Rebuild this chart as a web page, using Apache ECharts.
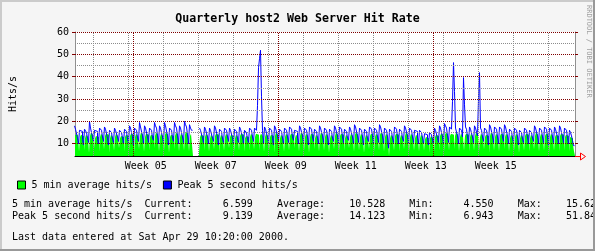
<!DOCTYPE html>
<html>
<head>
<meta charset="utf-8">
<script src="https://cdn.jsdelivr.net/npm/echarts@6/dist/echarts.min.js"></script>
<style>
html,body{margin:0;padding:0;background:#F5F5F5;}
#chart{width:595px;height:251px;}
</style>
</head>
<body>
<div id="chart"></div>
<script>
// ---- time frame: day-of-year 2000, one sample per 0.2 day (4.8 h) ----
const tStart = 19.34;           // first sample (Jan 20 2000)
const sampleStep = 0.2;         // days per consolidated sample
const tEnd = tStart + 100;      // last sample end (Apr 29 2000)

// ---- 5 min average hits/s, one row per day (night dip first) ----
const avgHits = [
 [14,14.5,14,13.5],
 [6.5,13,14,14,13.5],[7,12.5,14,14.5,13],[6,13.5,15,14.5,14],[8,12.5,13.5,14,13],[6.5,13,14.5,14.5,13.5],
 [7.5,13.5,14.5,15,14],[6,12.5,14,14,13],[7,13,14.5,14,13.5],[8,12.5,13.5,13.5,13],[6.5,13,14,14,13.5],
 [7,13.5,14.5,15,14],[6,13,14.5,14.5,13.5],[7.5,13.5,15,15,14],[6.5,13,14.5,14.5,14],[7,13,14,14.5,13.5],
 [8,13.5,15,15,14],[6.5,13,14.5,14.5,13.5],[7,14,15,15.6,14],[6,13,14,14.5,13.5],[7.5,13.5,15,15,14],
 [6.5,13,14.5,14.5,13.5],[7,14,15.5,15,14],[6.5,13.5,14.5,14,null],[null,null,null,null,null],[6,13,14,14,13.5],
 [7,13,14.5,14.5,13.5],[6.5,12.5,14,14,13],[7.5,13.5,14.5,15,14],[6,12.5,14,14,13],[7,13,14.5,14.5,13.5],
 [8,13,14,14.5,13.5],[6.5,12.5,14,14,13],[7,13.5,14.5,15,14],[6.5,12.5,13.5,14,13],[7,13,14.5,14.5,13.5],
 [7.5,13,14.5,14.5,14],[7,13.5,14.5,14.5,13.5],[6.5,13,14.5,14.5,13.5],[7,13,14,14.5,13.5],[6,13.5,15,15,14],
 [7.5,12.5,14,14,13],[6.5,13,14.5,14.5,13.5],[7,13.5,14.5,15,14],[8,12.5,14,14,13],[6.5,13.5,15,15,14],
 [7,13,14.5,14.5,13.5],[6,13,14.5,15,14],[7.5,12.5,14,14,13],[6.5,13.5,15,15,14],[7,13,14.5,14.5,13.5],
 [6,12.5,14,14,13],[7.5,13.5,15,15,14],[6.5,13.5,14.5,15,14],[7,12.5,14,14,13],[8,13,14.5,14.5,13.5],
 [6.5,14,15,15.5,14],[7,13,14.5,14.5,13.5],[6,12.5,14,14,13],[7.5,13.5,14.5,15,14],[6.5,13,14.5,14.5,13.5],
 [7,14,15,15.5,14],[6.5,13,14.5,14.5,13.5],[4.55,12.5,14,14,13],[7,13.5,14.5,15,14],[6.5,12.5,14,14,13],
 [7.5,13.5,15,15,14],[6.5,13,14.5,14.5,13.5],[7,12.5,14,14,13],[6.5,12.5,14,14,13],[7,12,13,13.5,12.5],
 [6,12.5,13.5,13.5,12.5],[6.5,13,14,14.5,13.5],[7,13.5,14.5,15,14],[6.5,14,15,15,14],[7,13.5,14.5,15,14],
 [7.5,13.5,15,15,14],[6.5,13,14.5,14.5,13.5],[7,13.5,14.5,15,14],[6.5,13,14.5,14.5,13.5],[7,13.5,15,15,14],
 [6.5,13,14.5,14.5,13.5],[7.5,13,14,14.5,13.5],[6,13.5,15,15,14],[7,13,14.5,14.5,13.5],[6.5,13.5,14.5,15,14],
 [7.5,13,14.5,14.5,13.5],[6.5,12.5,14,14,13],[7,13,14.5,14.5,13.5],[6,12.5,14,14,13],[7,13.5,14.5,15,14],
 [6.5,12.5,14,14,13],[7.5,13.5,15,15,14],[6.5,13,14.5,14.5,13.5],[7,13.5,14.5,15,14],[6,13,14.5,14.5,13.5],
 [7,13,14,14.5,13.5],[6.5,13.5,14.5,15,14],[7,13,14,14.5,13.5],[6.5,13,13.5,12.5,9.5],
 [6.599]
];

// ---- Peak 5 second hits/s, one row per day ----
const peakHits = [
 [18,16.5,16,12.5],
 [10,16,15.5,15.5,12],[9.5,16.5,16,15,12.5],[10.5,20,17,16.5,13],[11,16,15.5,15.5,12],[10,17,16.5,16,13],
 [11,17.5,16.5,16,12.5],[9.5,16,15.5,15,12],[10.5,17,16,16,13],[11,16,15.5,15,12.5],[10,16.5,16,15.5,12],
 [10.5,18,17,16.5,13],[9.5,17,16.5,16,12.5],[11,19.5,17.5,17,13.5],[10,18,17,16.5,13],[10.5,17,16.5,16,12.5],
 [11.5,19.5,18,17,13.5],[10,18,17,16.5,13],[10.5,19.5,18,17.5,13.5],[9.5,17,16.5,16,12.5],[11,19.5,18,17,13.5],
 [10,18,17,16.5,13],[10.5,20,18.5,17.5,14],[10,18.5,17,16,null],[null,null,null,null,null],[null,17,16,16,12.5],
 [10.5,17.5,16.5,16,13],[10,17,16,15.5,12.5],[11,18,17,16.5,13],[9.5,16.5,16,15.5,12],[10.5,17,16.5,16,13],
 [11,17,16,16,12.5],[10,16.5,16,15.5,12],[10.5,17.5,16.5,16.5,13],[10,16,15.5,15,12],[10.5,17,16.5,16,13],
 [11,17,16.5,16,27],[44,48,51.84,31,16],[10,17.5,16.5,16,13],[10.5,17,16.5,16,12.5],[9.5,18,17,16.5,13.5],
 [11,16.5,16,15.5,12.5],[10,17,16.5,16,13],[10.5,17.5,17,16.5,13],[11.5,16,15.5,15.5,12.5],[10,18,17,16.5,13.5],
 [10.5,17,16.5,16,13],[9.5,17.5,17,16.5,13],[11,16.5,16,15.5,12.5],[10,18,17,16.5,13.5],[10.5,17,16.5,16,13],
 [9.5,16.5,16,15.5,12.5],[11,18,17,16.5,13.5],[10,17.5,17,16.5,13],[10.5,16.5,16,15.5,12.5],[11.5,17.5,16.5,16,13],
 [10,18.5,17.5,17,13.5],[10.5,17,16.5,16,13],[9.5,16.5,16,15.5,12],[11,17.5,17,16.5,13.5],[10,17,16.5,16,13],
 [10.5,18.5,17.5,17,13.5],[10,17,16.5,16,13],[8,16.5,16,15.5,12.5],[10.5,17.5,17,16.5,13],[10,16.5,16,15.5,12.5],
 [11,18,17,16.5,13.5],[10,17,16.5,16,13],[10.5,16,15.5,15.5,12.5],[10,16,15.5,15,12.5],[10,14.5,14,14,12],
 [9.5,15,14.5,14,11.5],[10,17,16,15.5,12.5],[10.5,18,17,16.5,13],[10,19,18,17,13.5],[10.5,17.5,17,16.5,29],
 [46.3,33.3,17,16.5,13.5],[10,17,16.5,16,13],[39.6,27.4,17.5,16.5,13],[10,17.5,16.5,16,13],[10.5,18,17,16.5,13.5],
 [30.4,41.8,17,16,13],[11,17,16.5,16,13],[9.5,18.5,17.5,17,13.5],[10.5,17.5,17,16.5,13],[10,17.5,17,16.5,13],
 [11,18.5,17.5,17,13.5],[10,16.5,16,15.5,12.5],[10.5,17,16.5,16,13],[9.5,16,15.5,15,12],[10.5,17,16.5,16,13],
 [10,16,15.5,15,12.5],[11,18,17,16.5,13.5],[10,17,16.5,16,13],[10.5,17.5,17,16.5,13],[9.5,17,16.5,16,13],
 [10.5,17.5,16.5,16,13],[10,18,17,16.5,13],[10.5,17,16.5,16,12.5],[10,16,15,13.5,11.5],
 [9.139]
];

// ---- axis ticks / labels ----
const yLabelValues = [10, 20, 30, 40, 50, 60];
const yMinorValues = [15, 25, 35, 45, 55];
const weekLabelDays = [33.5, 47.5, 61.5, 75.5, 89.5, 103.5];
const weekLabels = ['Week 05', 'Week 07', 'Week 09', 'Week 11', 'Week 13', 'Week 15'];
const mondayDays = [23, 30, 37, 44, 51, 58, 65, 72, 79, 86, 93, 100, 107, 114];
const monthStartDays = [31, 60, 91];

// ---- legend / statistics ----
const seriesNames = ['5 min average hits/s', 'Peak 5 second hits/s'];
const statCurrent = [6.599, 9.139];
const statAverage = [10.528, 14.123];
const statMin = [4.550, 6.943];
const statMax = [15.625, 51.840];
const lastUpdate = 'Last data entered at Sat Apr 29 10:20:00 2000.';
const titleText = 'Quarterly host2 Web Server Hit Rate';
const yName = 'Hits/s';
const creditText = 'RRDTOOL / TOBI OETIKER';

const MONO = "'DejaVu Sans Mono', monospace";

function stepPoints(rows, shift) {
  const vals = rows.flat();
  const pts = [];
  vals.forEach((v, i) => {
    const a = tStart + i * sampleStep + shift, b = a + sampleStep;
    if (v === null) { pts.push([a, null]); return; }
    pts.push([a, v], [b, v]);
  });
  return pts;
}

function pad(v, w) { return String(v).padStart(w, ' '); }
function statLine(k) {
  return seriesNames[k] + '  Current:' + pad(statCurrent[k].toFixed(3), 10) +
    '    Average:' + pad(statAverage[k].toFixed(3), 10) +
    '    Min:' + pad(statMin[k].toFixed(3), 10) +
    '    Max:' + pad(statMax[k].toFixed(3), 10);
}

const MAJOR = '#800000', MINOR = '#8C8C8C';
const gridLines = [];
yMinorValues.forEach(v => gridLines.push({yAxis: v, lineStyle: {color: MINOR}}));
mondayDays.forEach(v => gridLines.push({xAxis: v, lineStyle: {color: MINOR}}));
yLabelValues.forEach(v => gridLines.push({yAxis: v, lineStyle: {color: MAJOR}}));
monthStartDays.forEach(v => gridLines.push({xAxis: v, lineStyle: {color: MAJOR}}));

const chart = echarts.init(document.getElementById('chart'), null, {renderer: 'canvas'});
chart.setOption({
  animation: false,
  backgroundColor: '#F5F5F5',
  title: {
    text: titleText, left: 'center', top: 8,
    textStyle: {fontFamily: MONO, fontSize: 11.6, fontWeight: 'bold', color: '#000'}
  },
  legend: {
    left: 12, top: 175, icon: 'rect', itemWidth: 8, itemHeight: 8, itemGap: 11,
    selectedMode: false,
    itemStyle: {borderColor: '#000', borderWidth: 1},
    textStyle: {fontFamily: MONO, fontSize: 10, color: '#000', padding: [0, 0, 0, 1]},
    data: seriesNames
  },
  grid: {left: 75, right: 20, top: 32, bottom: 95, show: true, backgroundColor: '#FFFFFF', borderWidth: 0},
  xAxis: {
    type: 'value', min: tStart, max: tEnd,
    axisLine: {show: true, lineStyle: {color: '#000', width: 1}},
    axisTick: {show: false},
    splitLine: {show: false},
    axisLabel: {
      customValues: weekLabelDays, margin: 5,
      fontFamily: MONO, fontSize: 10, color: '#000',
      formatter: v => { const i = weekLabelDays.findIndex(d => Math.abs(d - v) < 1e-6); return i >= 0 ? weekLabels[i] : ''; }
    }
  },
  yAxis: [{
    type: 'value', min: 4.5, max: 60, position: 'left',
    name: yName, nameLocation: 'middle', nameGap: 57, nameRotate: 90,
    nameTextStyle: {fontFamily: MONO, fontSize: 10, color: '#000'},
    axisLine: {show: true, lineStyle: {color: '#909090'}},
    axisTick: {show: true, customValues: yLabelValues, length: 3, lineStyle: {color: MAJOR}},
    splitLine: {show: false},
    axisLabel: {customValues: yLabelValues, margin: 6, fontFamily: MONO, fontSize: 10, color: '#000'}
  }, {
    type: 'value', min: 4.5, max: 60, position: 'right',
    axisLine: {show: true, lineStyle: {color: '#909090'}},
    axisTick: {show: true, customValues: yLabelValues, length: 3, lineStyle: {color: MAJOR}},
    splitLine: {show: false},
    axisLabel: {show: false}
  }],
  series: [{
    name: seriesNames[0], type: 'line', z: 2,
    data: stepPoints(avgHits, 0),
    symbol: 'none', showSymbol: false, connectNulls: false,
    itemStyle: {color: '#00FF00'},
    lineStyle: {width: 0, opacity: 0},
    areaStyle: {color: '#00FF00', opacity: 1, origin: 'start'}
  }, {
    name: 'grid', type: 'line', z: 3, data: [], symbol: 'none', silent: true,
    markLine: {
      silent: true, symbol: ['none', 'none'], label: {show: false},
      lineStyle: {type: [1, 1], width: 1},
      animation: false,
      data: gridLines
    }
  }, {
    name: seriesNames[1], type: 'line', z: 4,
    data: stepPoints(peakHits, -0.1),
    symbol: 'none', showSymbol: false, connectNulls: false,
    itemStyle: {color: '#0000FF'},
    lineStyle: {width: 1, color: '#0000FF'}
  }],
  graphic: [
    {type: 'text', left: 12, top: 199, style: {text: statLine(0), font: '10px ' + MONO, fill: '#000'}},
    {type: 'text', left: 12, top: 211.5, style: {text: statLine(1), font: '10px ' + MONO, fill: '#000'}},
    {type: 'text', left: 12, top: 232, style: {text: lastUpdate, font: '10px ' + MONO, fill: '#000'}},
    {type: 'text', x: 592, y: 5, rotation: -Math.PI / 2, z: 30,
     style: {text: creditText, font: '7px ' + MONO, fill: '#A0A0A0', textAlign: 'left', textVerticalAlign: 'top'}},
    {type: 'polyline', shape: {points: [[575, 156.5], [580, 156.5]]}, style: {stroke: '#FF0000', lineWidth: 1}, z: 10},
    {type: 'polygon', shape: {points: [[580.5, 153], [585.5, 156.5], [580.5, 160]]}, style: {stroke: '#FF0000', fill: 'none', lineWidth: 1}, z: 10},
    {type: 'rect', shape: {x: 0, y: 0, width: 595, height: 2}, style: {fill: '#CBCBCB'}, z: 20},
    {type: 'rect', shape: {x: 0, y: 0, width: 2, height: 251}, style: {fill: '#CBCBCB'}, z: 20},
    {type: 'rect', shape: {x: 593, y: 0, width: 2, height: 251}, style: {fill: '#999999'}, z: 20},
    {type: 'rect', shape: {x: 0, y: 249, width: 595, height: 2}, style: {fill: '#999999'}, z: 20}
  ]
});
</script>
</body>
</html>
